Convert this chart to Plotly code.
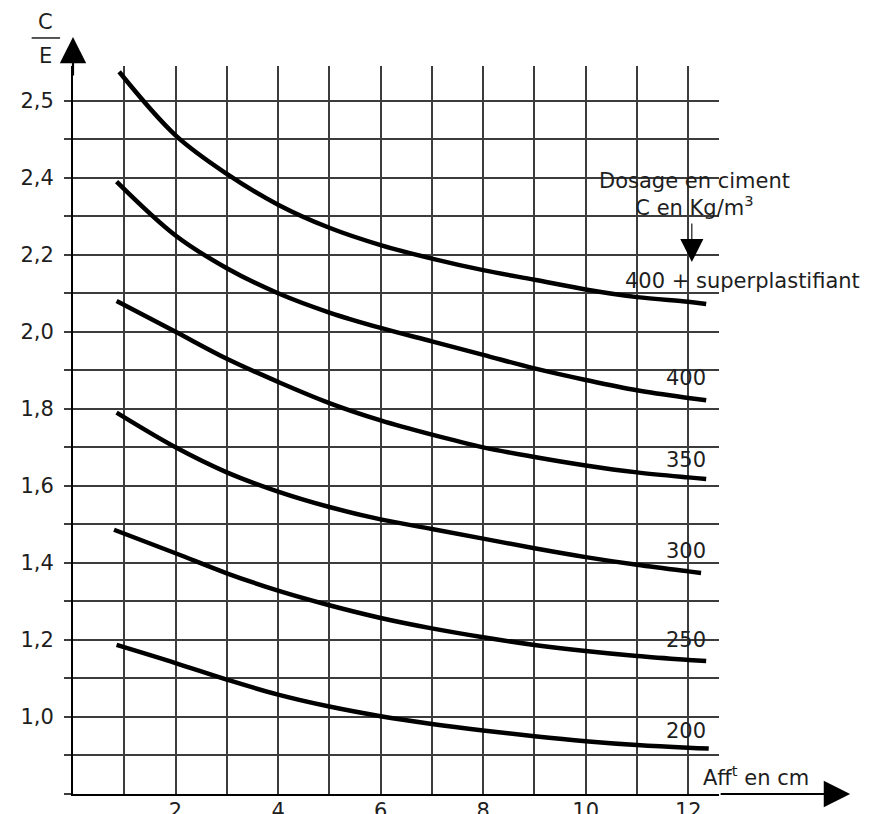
import plotly.graph_objects as go

aff_400sp = [0.9, 2, 3, 4, 5, 6, 7, 8, 9, 10, 11, 12, 12.35]
ce_400sp = [2.675, 2.51, 2.41, 2.33, 2.27, 2.225, 2.19, 2.16, 2.135, 2.11, 2.09, 2.078, 2.072]

aff_400 = [0.85, 2, 3, 4, 5, 6, 7, 8, 9, 10, 11, 12, 12.35]
ce_400 = [2.39, 2.25, 2.165, 2.10, 2.05, 2.01, 1.975, 1.94, 1.905, 1.875, 1.848, 1.828, 1.822]

aff_350 = [0.85, 2, 3, 4, 5, 6, 7, 8, 9, 10, 11, 12, 12.35]
ce_350 = [2.08, 2.00, 1.93, 1.87, 1.815, 1.77, 1.733, 1.70, 1.675, 1.653, 1.635, 1.622, 1.618]

aff_300 = [0.85, 2, 3, 4, 5, 6, 7, 8, 9, 10, 11, 12, 12.25]
ce_300 = [1.79, 1.70, 1.635, 1.585, 1.545, 1.513, 1.488, 1.463, 1.438, 1.415, 1.395, 1.378, 1.374]

aff_250 = [0.8, 2, 3, 4, 5, 6, 7, 8, 9, 10, 11, 12, 12.35]
ce_250 = [1.486, 1.425, 1.373, 1.328, 1.29, 1.257, 1.23, 1.207, 1.187, 1.171, 1.158, 1.148, 1.145]

aff_200 = [0.85, 2, 3, 4, 5, 6, 7, 8, 9, 10, 11, 12, 12.4]
ce_200 = [1.187, 1.14, 1.097, 1.058, 1.027, 1.002, 0.982, 0.965, 0.95, 0.937, 0.927, 0.92, 0.918]

x_ticks = [2, 4, 6, 8, 10, 12]
y_ticks = [1.0, 1.2, 1.4, 1.6, 1.8, 2.0, 2.2, 2.4, 2.6]
y_labels = ["1,0", "1,2", "1,4", "1,6", "1,8", "2,0", "2,2", "2,4", "2,5"]

courbes = [
    (aff_400sp, ce_400sp),
    (aff_400, ce_400),
    (aff_350, ce_350),
    (aff_300, ce_300),
    (aff_250, ce_250),
    (aff_200, ce_200),
]

police = "DejaVu Sans"
encre = "#1e1e1e"
grille = "#3c3c3c"

fig = go.Figure()
for xs, ys in courbes:
    fig.add_trace(go.Scatter(
        x=xs, y=ys, mode="lines",
        line=dict(color="black", width=4.5, shape="spline", smoothing=1),
        showlegend=False, hoverinfo="skip"
    ))

fig.update_layout(
    width=888, height=814,
    margin=dict(l=65, r=177, t=58, b=28),
    paper_bgcolor="white", plot_bgcolor="white",
    font=dict(family=police, size=21, color=encre),
    xaxis=dict(
        range=[0, 12.6], tickmode="array", tickvals=x_ticks,
        showgrid=True, gridcolor=grille, gridwidth=1.7,
        minor=dict(tick0=0, dtick=1, showgrid=True, gridcolor=grille, gridwidth=1.7),
        showline=True, linecolor="black", linewidth=2,
        ticks="", zeroline=False, tickfont=dict(size=21), automargin=False,
        ticklabelstandoff=-3,
    ),
    yaxis=dict(
        range=[0.8, 2.69], tickmode="array", tickvals=y_ticks, ticktext=y_labels,
        showgrid=True, gridcolor=grille, gridwidth=1.7,
        minor=dict(tick0=0, dtick=0.1, showgrid=True, gridcolor=grille, gridwidth=1.7,
                   ticks="outside", ticklen=7, tickcolor=grille, tickwidth=1.7),
        showline=True, linecolor="black", linewidth=2,
        ticks="outside", ticklen=7, tickcolor=grille, tickwidth=1.7,
        zeroline=False, tickfont=dict(size=21), ticklabelstandoff=6, automargin=False,
    ),
)

# fleches des axes
fig.add_annotation(xref="paper", yref="paper", x=1.203, y=0, ax=-131, ay=0,
                   text="", showarrow=True, arrowhead=2, arrowsize=2.4,
                   arrowwidth=2.2, arrowcolor="black")
fig.add_annotation(xref="paper", yref="paper", x=0, y=1.04, ax=0, ay=40,
                   text="", showarrow=True, arrowhead=2, arrowsize=2.4,
                   arrowwidth=2.2, arrowcolor="black")

# C/E
centre = dict(xanchor="center", yanchor="middle", showarrow=False)
fig.add_annotation(xref="paper", yref="paper", x=-0.043, y=1.06, text="C",
                   font=dict(size=21), **centre)
fig.add_annotation(xref="paper", yref="paper", x=-0.043, y=1.014, text="E",
                   font=dict(size=21), **centre)
fig.add_shape(type="line", xref="paper", yref="paper", x0=-0.064, x1=-0.02,
              y0=1.0385, y1=1.0385, line=dict(color=encre, width=1.5))

# textes des dosages
fig.add_annotation(x=12.13, y=2.356, text="Dosage en ciment<br>C en Kg/m<sup>3</sup>",
                   font=dict(size=21), **centre)
fig.add_annotation(x=12.07, y=2.181, ax=0, ay=-40, text="", showarrow=True,
                   arrowhead=2, arrowsize=4.2, arrowwidth=1.1, arrowcolor="black")
fig.add_annotation(xref="paper", x=1.036, y=2.132, text="400 + superplastifiant",
                   font=dict(size=21), **centre)
for txt, yy in [("400", 1.88), ("350", 1.667), ("300", 1.43), ("250", 1.2), ("200", 0.964)]:
    fig.add_annotation(x=11.95, y=yy, text=txt, font=dict(size=21), **centre)
fig.add_annotation(xref="paper", x=1.057, y=0.847, text="Aff<sup>t</sup> en cm",
                   font=dict(size=21), **centre)

fig.write_html("out.html")
